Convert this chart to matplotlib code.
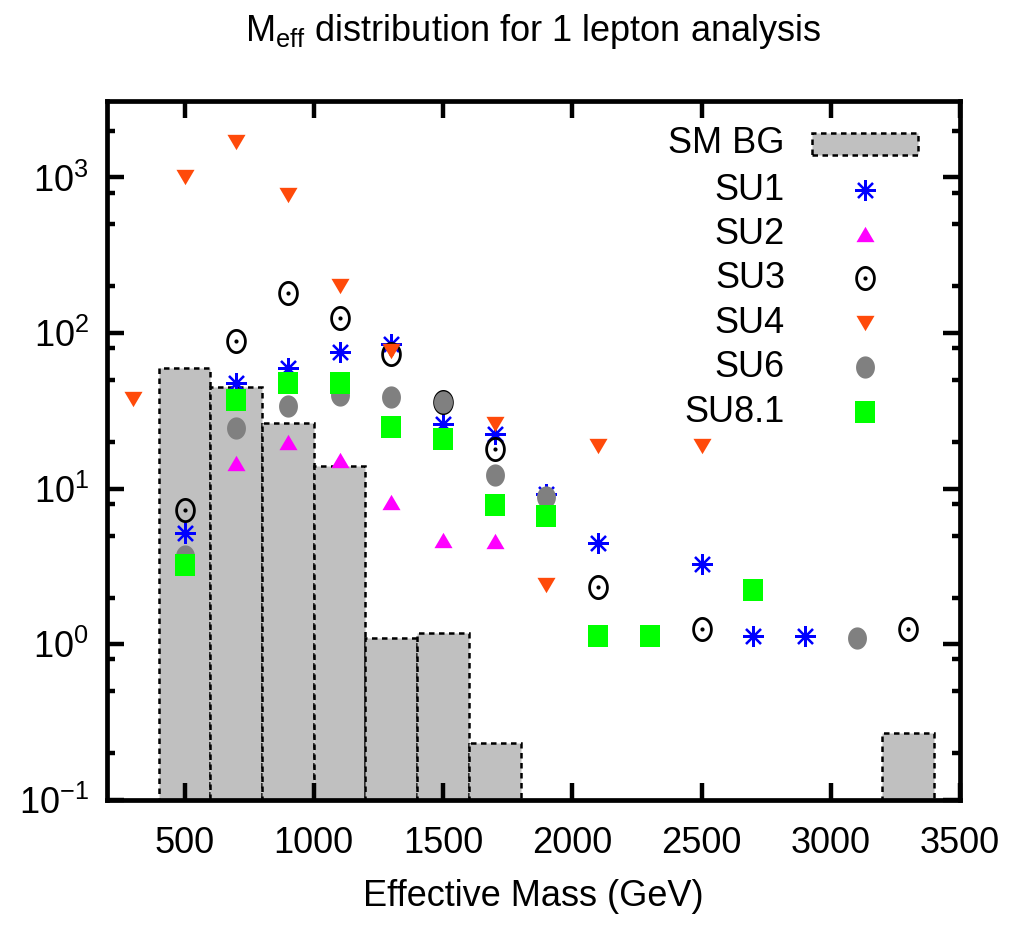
import numpy as np
import matplotlib
matplotlib.use("Agg")
import matplotlib.pyplot as plt
from matplotlib.path import Path
from matplotlib.patches import Rectangle
from matplotlib.ticker import LogLocator, FixedLocator, NullFormatter, NullLocator

# ---- data -------------------------------------------------------------
bin_low = [400, 600, 800, 1000, 1200, 1400, 1600, 3200]
bin_width = 200
bg_counts = [60, 45, 26.5, 13.9, 1.1, 1.19, 0.234, 0.27]

su1_x = [500, 700, 900, 1100, 1300, 1500, 1700, 1900, 2100, 2500, 2700, 2900]
su1_y = [5.2, 48, 60, 76, 85, 26, 22.5, 9.2, 4.5, 3.3, 1.14, 1.14]

su2_x = [700, 900, 1100, 1300, 1500, 1700]
su2_y = [14.7, 20, 15.4, 8.2, 4.7, 4.6]

su3_x = [500, 700, 900, 1100, 1300, 1500, 1700, 2100, 2500, 3300]
su3_y = [7.3, 89, 182, 125, 73, 36, 18, 2.34, 1.25, 1.25]

su4_x = [300, 500, 700, 900, 1100, 1300, 1700, 1900, 2100, 2500]
su4_y = [37.5, 1000, 1700, 774, 201, 77, 26, 2.4, 18.7, 18.7]

su6_x = [500, 700, 900, 1100, 1300, 1500, 1700, 1900, 3100]
su6_y = [3.7, 24.7, 34, 40, 39, 36, 12.3, 8.9, 1.1]

su81_x = [500, 700, 900, 1100, 1300, 1500, 1700, 1900, 2100, 2300, 2700]
su81_y = [3.24, 37, 48, 48, 25, 21, 7.9, 6.7, 1.14, 1.14, 2.25]

x_ticks = [500, 1000, 1500, 2000, 2500, 3000, 3500]

# ---- style ------------------------------------------------------------
FAMILY = 'Liberation Sans'
FS = 26

plt.rcParams['font.family'] = [FAMILY, 'DejaVu Sans']
plt.rcParams['mathtext.fontset'] = 'custom'
plt.rcParams['mathtext.rm'] = FAMILY
plt.rcParams['mathtext.it'] = FAMILY + ':italic'
plt.rcParams['mathtext.bf'] = FAMILY + ':bold'


def ellipse(ratio=0.82, n=80):
    t = np.linspace(0, 2 * np.pi, n)
    return Path(np.column_stack([ratio * np.cos(t), np.sin(t)]), closed=True)


def rect(ratio=0.9):
    v = [(-ratio, -1), (ratio, -1), (ratio, 1), (-ratio, 1), (-ratio, -1)]
    return Path(v, closed=True)


def tri(up=True, h=0.85):
    s = 1 if up else -1
    return Path([(0, s * h), (-1, -s * h), (1, -s * h), (0, s * h)], closed=True)


ring = ellipse(0.8)
blob = ellipse(0.85)
square = rect(0.9)
tri_up = tri(True)
tri_dn = tri(False)

styles = {
    'SU1': dict(marker=(8, 2, 0), color='#0000ff', ms=15, mew=1.6, mfc='none', mec='#0000ff'),
    'SU2': dict(marker=tri_up, color='#ff00ff', ms=13, mew=0, mfc='#ff00ff'),
    'SU3': dict(marker=ring, color='black', ms=16, mew=2.0, mfc='none', mec='black'),
    'SU4': dict(marker=tri_dn, color='#ff4a0a', ms=13, mew=0, mfc='#ff4a0a'),
    'SU6': dict(marker=blob, color='#808080', ms=16, mew=0, mfc='#808080'),
    'SU8.1': dict(marker=square, color='#00ff00', ms=16, mew=0, mfc='#00ff00'),
}

fig = plt.figure(figsize=(10.16, 9.38), dpi=100)
ax = fig.add_axes([107 / 1016, 1 - 800 / 938, 853 / 1016, 699 / 938])

# SM background histogram
centers = [lo + bin_width / 2 for lo in bin_low]
ax.bar(centers, bg_counts, width=bin_width, color='#c0c0c0',
       edgecolor='black', linewidth=1.8, linestyle=(0, (2.2, 1.8)), zorder=1)

series = [('SU1', su1_x, su1_y), ('SU2', su2_x, su2_y), ('SU3', su3_x, su3_y),
          ('SU4', su4_x, su4_y), ('SU6', su6_x, su6_y), ('SU8.1', su81_x, su81_y)]

for i, (name, xs, ys) in enumerate(series):
    st = styles[name]
    ax.plot(xs, ys, linestyle='none', marker=st['marker'], ms=st['ms'],
            mew=st['mew'], mfc=st['mfc'], mec=st.get('mec', st['color']),
            zorder=3 + i)
    if name == 'SU3':
        ax.plot(xs, ys, linestyle='none', marker='o', ms=3, mew=0,
                mfc='black', zorder=3 + i)

ax.set_yscale('log')
ax.set_xlim(200, 3500)
ax.set_ylim(0.1, 3100)

ax.xaxis.set_major_locator(FixedLocator(x_ticks))
ax.xaxis.set_minor_locator(NullLocator())
ax.yaxis.set_major_locator(LogLocator(base=10, numticks=10))
ax.yaxis.set_minor_locator(LogLocator(base=10, subs=(2, 5, 8), numticks=10))
ax.yaxis.set_minor_formatter(NullFormatter())

ax.tick_params(which='both', direction='in', top=True, right=True,
               labelsize=FS)
ax.tick_params(which='major', length=12, width=3.2)
ax.tick_params(which='minor', length=6, width=3.2)
ax.tick_params(axis='x', pad=19)
ax.tick_params(axis='y', pad=13)
for sp in ax.spines.values():
    sp.set_linewidth(3.4)

ax.set_xlabel('Effective Mass (GeV)', fontsize=FS, labelpad=13)
fig.text(0.525, 0.966, r'M$_{\mathrm{eff}}$ distribution for 1 lepton analysis',
         ha='center', va='center', fontsize=FS)

# ---- key --------------------------------------------------------------
def fy(py):
    return 1 - (py - 101) / 699


lab_x = (785 - 107) / 853
sym_x = (865 - 107) / 853
rows = [('SM BG', 143), ('SU1', 190), ('SU2', 234), ('SU3', 278),
        ('SU4', 323), ('SU6', 367), ('SU8.1', 412)]
for name, py in rows:
    ax.text(lab_x, fy(py), name, transform=ax.transAxes, ha='right',
            va='center', fontsize=FS, zorder=10)
    if name == 'SM BG':
        x0 = (812 - 107) / 853
        x1 = (918 - 107) / 853
        ax.add_patch(Rectangle((x0, fy(155)), x1 - x0, fy(133) - fy(155),
                               transform=ax.transAxes, facecolor='#c0c0c0',
                               edgecolor='black', linewidth=1.8,
                               linestyle=(0, (2.2, 1.8)), zorder=10))
    else:
        st = styles[name]
        ax.plot([sym_x], [fy(py)], transform=ax.transAxes, linestyle='none',
                marker=st['marker'], ms=st['ms'], mew=st['mew'],
                mfc=st['mfc'], mec=st.get('mec', st['color']), zorder=10,
                clip_on=False)
        if name == 'SU3':
            ax.plot([sym_x], [fy(py)], transform=ax.transAxes,
                    linestyle='none', marker='o', ms=3, mew=0, mfc='black',
                    zorder=11, clip_on=False)

fig.savefig('out.png', dpi=100)
